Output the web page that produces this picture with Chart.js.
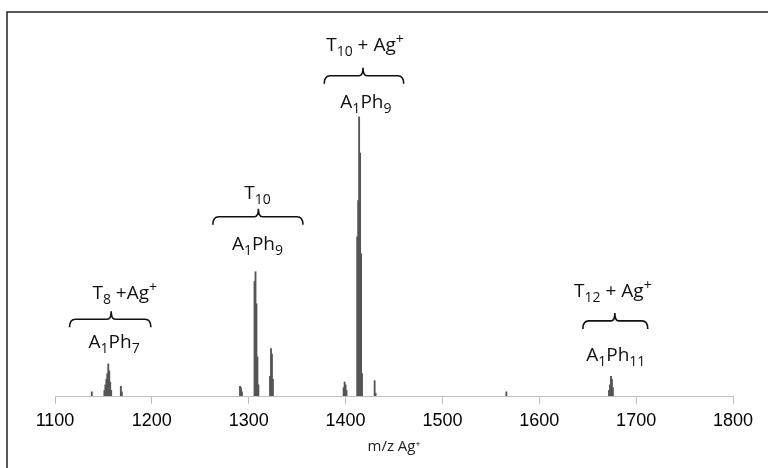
<!DOCTYPE html>
<html>
<head>
<meta charset="utf-8">
<script src="https://cdn.jsdelivr.net/npm/chart.js@4.4.1/dist/chart.umd.min.js"></script>
<style>
  html, body { margin: 0; padding: 0; background: #fff; }
  #wrap { width: 768px; height: 468px; }
</style>
</head>
<body>
<div id="wrap"><canvas id="spectrum" width="768" height="468"></canvas></div>
<script>
// m/z of every stick in the spectrum and its relative intensity (%)
const mz = [
  1138,
  1151, 1152, 1153, 1154, 1155, 1156, 1157, 1158,
  1168, 1169,
  1291, 1292, 1293,
  1306, 1307, 1308, 1309, 1310,
  1322, 1323, 1324, 1325,
  1398, 1399, 1400, 1401,
  1412, 1413, 1414, 1415, 1416, 1417,
  1430, 1431,
  1566,
  1672, 1673, 1674, 1675, 1676
];
const intensity = [
  1.5,
  2, 4, 6, 8, 11.5, 9, 5, 2,
  3.5, 1.5,
  3.5, 3, 1.5,
  41, 44.5, 33, 14, 4,
  7, 17, 15, 6,
  3, 5, 4, 2,
  57, 70, 100, 87, 51, 8,
  5.5, 1,
  1.5,
  2, 4, 7, 6, 3
];
const xTicks = [1100, 1200, 1300, 1400, 1500, 1600, 1700, 1800];
const axisTitle = 'm/z Ag\u207A';

// peak assignments: label above the brace, label below it (m/z for x, intensity for y)
const topLabels = ['T_{8} +Ag^{+}', 'T_{10}', 'T_{10} + Ag^{+}', 'T_{12} + Ag^{+}'];
const bottomLabels = ['A_{1}Ph_{7}', 'A_{1}Ph_{9}', 'A_{1}Ph_{9}', 'A_{1}Ph_{11}'];
const braceFrom = [1115, 1263, 1378, 1645];
const braceTo = [1199, 1356, 1460, 1712];
const braceTip = [1158, 1310, 1418, 1678];
const braceLevel = [27.5, 64.2, 114.7, 26.9];
const topLabelX = [1172, 1309, 1420, 1676];
const topLabelY = [36.6, 72.4, 125.4, 37.3];
const bottomLabelX = [1161, 1309, 1421, 1679];
const bottomLabelY = [19.0, 54.1, 105.0, 14.3];

function drawRich(ctx, text, cx, cy, size) {
  const parts = [];
  const re = /([_^])\{([^}]*)\}|([^_^]+)/g;
  let m;
  while ((m = re.exec(text)) !== null) {
    if (m[3]) parts.push({ t: m[3], k: '' });
    else parts.push({ t: m[2], k: m[1] });
  }
  const fam = '"Open Sans", "DejaVu Sans", sans-serif';
  const small = Math.round(size * 0.72);
  let w = 0;
  parts.forEach(p => {
    ctx.font = (p.k ? small : size) + 'px ' + fam;
    p.w = ctx.measureText(p.t).width;
    w += p.w;
  });
  let x = cx - w / 2;
  ctx.textBaseline = 'middle';
  ctx.textAlign = 'left';
  parts.forEach(p => {
    ctx.font = (p.k ? small : size) + 'px ' + fam;
    let dy = 0;
    if (p.k === '_') dy = size * 0.32;
    if (p.k === '^') dy = -size * 0.3;
    ctx.fillText(p.t, x, cy + dy);
    x += p.w;
  });
}

const frameAndBraces = {
  id: 'frameAndBraces',
  beforeDraw(chart) {
    const ctx = chart.ctx;
    ctx.save();
    ctx.fillStyle = '#fff';
    ctx.fillRect(0, 0, chart.width, chart.height);
    ctx.strokeStyle = '#222';
    ctx.lineWidth = 1.5;
    ctx.beginPath();
    ctx.moveTo(7, chart.height);
    ctx.lineTo(7, 12);
    ctx.lineTo(chart.width, 12);
    ctx.stroke();
    ctx.restore();
  },
  afterDatasetsDraw(chart) {
    const ctx = chart.ctx;
    const x = chart.scales.x, y = chart.scales.y;
    ctx.save();
    ctx.strokeStyle = '#111';
    ctx.lineWidth = 1.6;
    ctx.fillStyle = '#111';
    for (let i = 0; i < topLabels.length; i++) {
      const x1 = x.getPixelForValue(braceFrom[i]);
      const x2 = x.getPixelForValue(braceTo[i]);
      const xm = x.getPixelForValue(braceTip[i]);
      const yb = y.getPixelForValue(braceLevel[i]);
      const h = 8, r = 4;
      ctx.beginPath();
      ctx.moveTo(x1, yb + h);
      ctx.quadraticCurveTo(x1, yb, x1 + r + 2, yb);
      ctx.lineTo(xm - r, yb);
      ctx.quadraticCurveTo(xm, yb, xm, yb - h);
      ctx.quadraticCurveTo(xm, yb, xm + r, yb);
      ctx.lineTo(x2 - r - 2, yb);
      ctx.quadraticCurveTo(x2, yb, x2, yb + h);
      ctx.stroke();
      drawRich(ctx, topLabels[i], x.getPixelForValue(topLabelX[i]), y.getPixelForValue(topLabelY[i]), 19);
      drawRich(ctx, bottomLabels[i], x.getPixelForValue(bottomLabelX[i]), y.getPixelForValue(bottomLabelY[i]), 19);
    }
    ctx.restore();
  }
};

const ctx = document.getElementById('spectrum').getContext('2d');
const chart = new Chart(ctx, {
  type: 'bar',
  data: {
    datasets: [{
      label: 'intensity',
      data: mz.map((m, i) => ({ x: m, y: intensity[i] })),
      backgroundColor: '#555',
      borderWidth: 0,
      barThickness: 1.2
    }]
  },
  options: {
    responsive: false,
    animation: false,
    layout: { padding: { left: 55, right: 35, top: 19, bottom: 0 } },
    plugins: { legend: { display: false }, tooltip: { enabled: false } },
    scales: {
      x: {
        type: 'linear',
        min: 1100,
        max: 1800,
        offset: false,
        afterBuildTicks: (s) => { s.ticks = xTicks.map(v => ({ value: v })); },
        afterFit: (s) => { s.height = 72; },
        grid: { drawOnChartArea: false, drawTicks: true, tickLength: 8, color: '#bfbfbf', offset: false },
        border: { color: '#bfbfbf', width: 1 },
        ticks: {
          padding: 6,
          color: '#000',
          maxRotation: 0,
          callback: (v) => String(v),
          font: { family: '"Liberation Sans", Arial, sans-serif', size: 18 }
        },
        title: {
          display: true,
          text: axisTitle,
          color: '#222',
          padding: { top: 4, bottom: 12 },
          font: { family: '"Open Sans", sans-serif', size: 15 }
        }
      },
      y: {
        display: false,
        min: 0,
        max: 135
      }
    }
  },
  plugins: [frameAndBraces]
});
</script>
</body>
</html>
